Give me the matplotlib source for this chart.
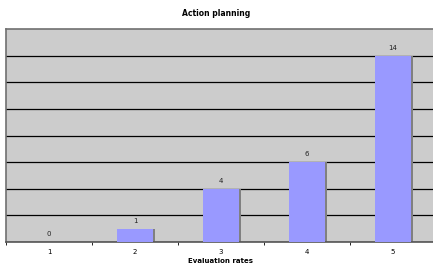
import numpy as np
import matplotlib.pyplot as plt

# data
categories = ["1", "2", "3", "4", "5"]
counts = [0, 1, 4, 6, 14]
title = "Action planning"
xlabel = "Evaluation rates"

fig = plt.figure(figsize=(4.33, 2.69), dpi=100)
ax = fig.add_axes([6 / 433, 1 - 242 / 269, 430 / 433, 213 / 269])
ax.set_facecolor("#CCCCCC")

x = np.arange(len(categories))
w = 0.41
# shadow on the right of each bar
ax.bar(x + 0.03, counts, width=w, color="#808080", zorder=2)
ax.bar(x, counts, width=w, color="#9999FF", zorder=3)

for xi, v in zip(x, counts):
    ax.text(xi, v + 0.35, str(v), ha="center", va="bottom", fontsize=5, color="#222222")

ax.set_xlim(-0.5, 4.5)
ax.set_ylim(0, 16)
ax.set_yticks(np.arange(0, 16, 2))
ax.yaxis.grid(True, color="black", linewidth=0.9, zorder=1)
ax.set_axisbelow(True)
ax.tick_params(axis="y", left=False, labelleft=False)

ax.set_xticks(x)
ax.set_xticklabels(categories, fontsize=5)
ax.set_xticks(np.arange(-0.5, 5, 1), minor=True)
ax.tick_params(axis="x", which="major", length=0, pad=5)
ax.tick_params(axis="x", which="minor", length=2, color="black")

for s in ax.spines.values():
    s.set_color("#707070")
    s.set_linewidth(1.2)
ax.spines["bottom"].set_color("#555555")

ax.set_xlabel(xlabel, fontsize=5, fontweight="bold", labelpad=2)
fig.text(216 / 433, 1 - 13 / 269, title, ha="center", va="center", fontsize=5.5, fontweight="bold")

fig.savefig("out.png", dpi=100)
